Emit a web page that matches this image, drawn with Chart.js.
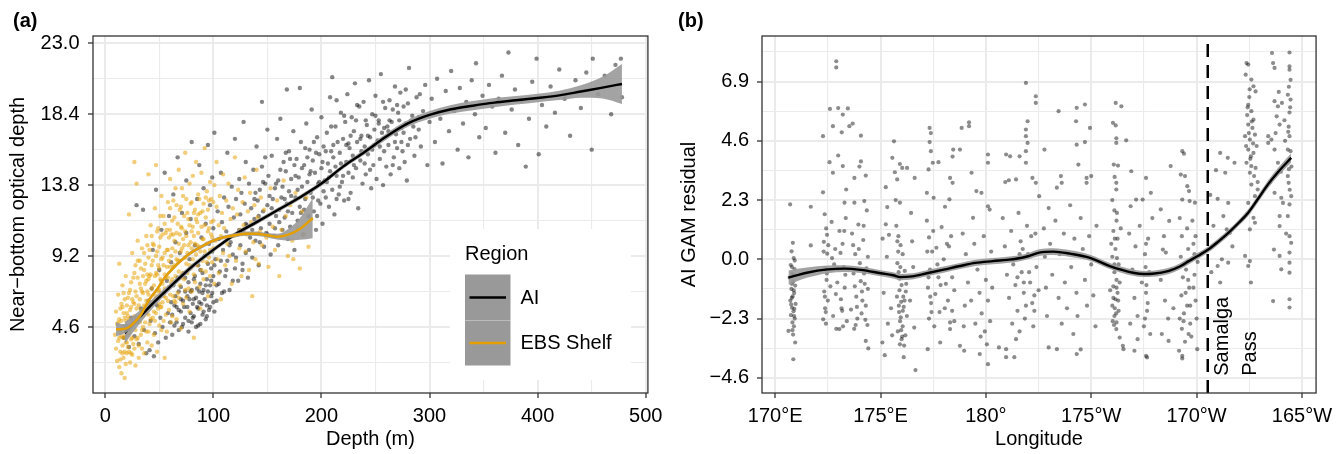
<!DOCTYPE html>
<html>
<head>
<meta charset="utf-8">
<script src="https://cdn.jsdelivr.net/npm/chart.js@4.4.0/dist/chart.umd.min.js"></script>
<style>
  body { margin: 0; background: #fff; width: 1339px; height: 454px; position: relative; overflow: hidden; font-family: "Liberation Sans", Arial, sans-serif; }
  canvas { position: absolute; top: 0; }
  #chartA { left: 0; }
  #chartB { left: 669px; }
  .tag { position: absolute; top: 10px; font-weight: bold; font-size: 20px; line-height: 20px; z-index: 2; }
</style>
</head>
<body>
<canvas id="chartA" width="669" height="454"></canvas>
<canvas id="chartB" width="670" height="454"></canvas>
<div class="tag" style="left:13px">(a)</div>
<div class="tag" style="left:678px">(b)</div>
<script>
// ---------- panel (a): depth vs near-bottom optical depth ----------
const depthTicks = [0, 100, 200, 300, 400, 500];
const depthMinor = [50, 150, 250, 350, 450];
const opticalTicks = [4.6, 9.2, 13.8, 18.4, 23.0];
const opticalMinor = [2.3, 6.9, 11.5, 16.1, 20.7];
const regionNames = ['AI', 'EBS Shelf'];

// AI hauls [depth, optical depth]
const aiPoints = [
  [17,3.9],[19,4.6],[22,3.3],[24,5.2],[27,4.0],[29,12.5],[31,3.5],[33,5.8],[35,12.2],[36,4.4],[38,2.9],[40,6.3],
  [41,3.1],[42,5.0],[43,7.1],[44,9.6],[45,2.7],[46,4.2],[47,13.5],[48,6.0],[49,3.6],[50,8.3],[51,5.2],[52,10.9],
  [53,4.6],[54,6.8],[55,14.6],[56,3.9],[57,7.6],[58,5.5],[59,11.8],[60,4.9],
  [61,6.2],[61,8.8],[62,5.4],[63,7.3],[63,13.2],[64,4.7],[65,6.6],[65,10.1],[66,5.9],[67,7.8],[67,15.6],[68,4.4],
  [68,6.9],[69,9.4],[70,5.6],[70,7.2],[71,12.0],[72,6.3],[72,4.8],[73,8.1],[74,5.2],[74,6.9],[75,10.7],[75,14.1],
  [76,5.9],[77,7.5],[77,4.3],[78,6.4],[78,9.0],[79,5.5],[79,11.6],[80,7.0],[80,16.6],[80,4.9],[81,6.1],
  [82,5.3],[82,7.7],[83,9.9],[84,6.5],[84,4.6],[85,12.9],[85,7.1],[86,5.8],[86,8.6],[87,6.9],[87,15.1],[88,4.8],
  [88,7.4],[89,10.4],[89,6.1],[90,8.1],[90,5.4],[91,13.6],[91,7.0],[92,6.4],[92,9.2],[93,5.1],[93,11.3],[94,7.7],
  [94,6.0],[95,16.4],[95,8.7],[96,5.7],[96,10.0],[97,7.3],[97,12.5],[98,6.6],[98,8.4],[99,14.3],[99,9.5],[100,7.9],
  [100,6.2],[100,11.0],[101,5.6],[101,17.2],
  [62,4.1],[64,6.0],[66,4.9],[68,5.7],[70,6.4],[71,4.6],[73,5.9],[74,7.8],[76,6.6],[77,5.0],[79,6.9],[81,5.2],
  [82,6.4],[83,7.9],[85,5.9],[86,4.7],[87,6.2],[88,8.3],[90,6.8],[91,5.6],[93,7.3],[94,5.3],[95,6.9],[97,5.9],
  [98,7.6],[99,6.8],[101,8.6],[103,6.3],[105,7.4],[107,8.9],[110,6.9],[112,8.3],[115,9.9],[118,7.6],[121,9.1],
  [124,10.9],[127,8.3],[130,11.3],[133,9.6],[136,10.9],
  [102,9.0],[103,7.3],[104,12.1],[105,10.3],[106,8.2],[107,14.6],[108,6.8],[108,11.4],[109,9.6],[110,13.0],
  [111,7.9],[112,10.8],[113,15.9],[113,8.9],[114,12.4],[115,7.0],[116,10.1],[117,13.7],[118,9.3],[119,11.7],
  [120,8.4],[120,16.8],[121,12.9],[122,10.6],[123,7.6],[124,14.2],[125,9.9],[125,11.9],[126,13.3],[127,8.7],
  [128,10.9],[128,17.9],[129,12.6],[130,9.4],[130,15.3],[131,11.2],[132,7.8],[133,13.9],[134,10.4],[135,12.3],
  [136,9.1],[137,14.8],[138,11.6],[139,10.2],[140,16.3],[141,12.8],[142,8.6],[143,13.5],[144,11.0],[145,19.2],
  [145,15.0],[146,12.1],[147,9.8],[148,13.9],[149,10.7],[150,17.4],[150,12.5],[151,14.4],[152,11.3],[153,9.3],
  [154,15.7],[155,12.9],[156,10.5],[157,13.6],[158,11.8],[159,16.8],[160,14.1],[160,9.9],[161,12.2],[162,18.1],
  [163,13.0],[164,10.9],[165,15.3],[166,11.7],[167,14.7],[168,12.6],[168,20.0],[169,10.3],[170,13.4],[170,16.0],
  [171,11.1],[172,14.2],[173,12.0],[174,17.3],[175,9.6],
  [139,13.3],[142,11.8],[146,14.0],[150,10.6],[154,12.3],[158,13.9],[161,11.4],[164,13.7],[167,15.9],[169,12.1],
  [172,13.1],[175,15.1],[178,13.5],[182,14.9],[184,12.2],[187,15.6],[190,14.7],[192,13.0],[195,15.9],[198,14.0],
  [202,13.4],[204,16.0],[207,14.3],[211,16.4],[214,12.9],[218,15.2],[220,14.4],[223,16.4],[227,17.0],[230,15.1],
  [232,18.0],[236,16.8],[240,15.2],[243,17.0],[247,16.1],[250,18.3],[254,16.3],[258,17.5],[263,18.0],[268,16.6],
  [272,18.0],[276,17.2],[280,16.4],[285,17.6],[290,18.2],
  [176,13.0],[177,15.5],[178,11.5],[179,14.3],[180,20.1],[180,12.4],[181,16.6],[182,13.7],[183,10.6],[184,15.1],
  [185,12.9],[186,17.8],[187,14.0],[188,11.8],[189,16.1],[190,13.3],[191,18.7],[192,15.4],[193,12.1],[194,14.6],
  [195,10.9],[196,16.9],[197,13.9],[198,15.8],[199,12.6],[200,14.9],[200,18.2],[201,11.3],[202,16.3],[203,14.1],
  [204,13.0],[205,17.2],[206,15.2],[207,12.4],[208,19.5],[208,14.7],[209,16.0],[210,13.5],[210,20.8],[211,15.6],
  [212,11.9],[213,17.6],[214,14.4],[215,16.6],[216,13.2],
  [217,15.9],[218,18.5],[219,14.0],[220,16.8],[221,12.8],[222,17.9],[223,15.3],[224,19.7],[225,14.6],[226,16.2],
  [227,13.3],[228,18.2],[229,15.7],[230,17.3],[231,20.4],[232,14.9],[233,16.6],[234,12.3],[235,18.9],[236,15.4],
  [237,17.0],[238,13.9],[239,19.2],[240,16.3],[241,14.5],[242,17.7],[243,15.8],[244,20.6],[245,16.9],[246,13.6],
  [247,18.4],[248,15.1],[249,17.4],[250,19.6],[251,14.2],[252,16.7],[253,18.0],[254,15.5],[255,21.0],[256,17.2],
  [257,13.8],[258,16.0],[259,18.8],[260,15.0],[261,17.6],
  [138,12.9],[143,10.1],[148,15.6],[152,13.1],[157,11.0],[162,14.8],[166,12.9],[171,15.5],[176,14.4],[181,12.0],
  [185,16.2],[189,14.5],[193,16.6],[197,12.8],[201,15.3],[205,14.0],[209,17.6],[213,15.0],[217,13.7],[221,18.3],
  [225,16.5],[229,14.3],[233,19.0],[237,16.0],[241,18.0],[245,14.8],[249,16.4],[253,17.8],[257,19.2],[262,17.3],
  [266,15.1],[270,19.0],[274,16.6],[278,20.0],[283,18.0],[287,16.9],[291,19.7],[225,12.9],[214,19.3],[196,11.8],
  [262,16.4],[263,19.3],[264,14.5],[265,17.9],[266,18.7],[267,15.6],[268,20.2],[269,17.1],[270,16.2],[271,18.5],
  [272,14.9],[273,19.8],[274,17.5],[275,16.0],[276,18.9],[277,15.3],[278,17.8],[279,14.1],[280,19.1],[281,21.4],
  [282,16.8],[284,18.3],[286,15.7],[288,19.5],[290,17.4],[292,16.3],[294,18.6],[296,20.3],[298,15.1],[300,17.9],
  [302,19.4],[305,16.6],[307,20.7],[310,18.1],[312,15.2],[315,19.9],[318,17.3],[320,21.2],[323,18.6],[326,16.1],
  [328,20.1],[331,17.8],[334,19.2],[336,15.6],[339,20.6],[342,18.4],[343,21.7],[346,16.9],[349,19.6],[352,17.5],
  [355,20.3],[358,18.9],[361,15.9],[364,19.4],[367,20.9],[370,17.2],[373,22.4],[376,18.7],[379,20.0],[382,16.4],
  [385,19.3],[389,15.0],[392,18.1],[395,20.5],[399,22.0],[401,15.8],[404,19.0],[408,17.6],[412,20.2],[416,18.5],
  [420,21.3],[425,19.4],[430,17.0],[435,20.6],[440,18.8],[445,21.1],[450,16.1],[451,22.0],[456,19.7],[462,20.9],
  [468,18.4],[472,21.6],[477,22.0],[478,19.5]
];

// EBS shelf hauls [depth, optical depth]
const ebsPoints = [
  [9,4.1],[10,3.2],[10,5.6],[11,2.4],[11,4.8],[12,6.7],[12,3.7],[13,8.7],[13,2.0],[13,5.1],[14,4.3],[14,3.0],
  [15,6.1],[15,1.6],[16,4.6],[16,7.3],[16,3.4],[17,5.5],[17,2.6],[18,4.0],[18,6.4],[18,1.3],[19,3.6],[19,5.0],
  [19,7.9],[20,2.9],[20,4.5],[20,6.0],[21,3.3],[21,5.3],
  [12,4.9],[13,3.9],[14,5.8],[14,2.5],[15,4.0],[15,5.0],[16,2.9],[16,5.9],[17,3.9],[17,6.8],[18,3.0],[18,5.2],
  [19,4.3],[19,2.2],[20,5.5],[20,3.6],[21,4.1],[21,6.5],[22,3.0],[22,5.1],[23,4.4],[23,7.0],[24,2.9],[24,5.9],
  [25,3.9],[25,6.4],[26,4.8],[26,7.8],[27,3.2],[27,6.1],[28,5.2],[28,8.6],[29,3.8],[29,6.6],[30,4.9],[30,8.9],
  [22,11.9],[22,4.2],[22,6.8],[23,2.3],[23,5.7],[24,3.8],[24,7.5],[25,4.9],[25,2.8],[25,9.4],[26,6.2],[26,3.5],
  [27,15.3],[27,5.3],[27,8.1],[28,4.4],[28,2.1],[28,6.9],[29,13.9],[29,5.8],[30,3.9],[30,7.8],[30,10.2],[31,5.0],
  [31,2.6],[32,6.4],[32,8.9],[33,4.1],[33,7.1],[34,3.2],[34,5.6],[34,9.7],[35,6.8],[35,4.6],[36,8.3],[36,2.9],
  [37,5.9],[37,7.4],[38,10.5],[38,4.3],[38,6.3],[39,3.6],[39,8.0],[40,5.4],[40,14.5],[40,9.1],[40,6.7],[41,4.8],
  [41,7.9],[42,11.2],
  [31,6.0],[31,3.4],[32,7.4],[32,4.9],[33,5.7],[33,8.4],[34,6.9],[34,4.4],[35,7.9],[35,5.3],[36,6.0],[36,9.4],
  [37,4.9],[37,8.7],[38,7.6],[38,5.5],[39,6.9],[39,9.9],[40,7.7],[40,4.3],[41,6.1],[41,9.6],[42,8.0],[42,5.1],
  [43,7.1],[43,10.5],[44,6.2],[44,8.9],[45,5.6],[45,9.9],[46,7.9],[46,5.0],[47,9.2],[47,6.6],[48,8.0],[48,10.8],
  [49,5.8],[49,8.6],[50,9.8],[50,6.1],[51,7.7],[51,11.8],[52,9.0],[52,5.9],[53,7.4],[53,10.6],[54,8.6],[54,6.6],
  [55,9.4],[55,11.3],[56,7.8],[56,5.4],[57,8.5],[57,10.9],[58,9.6],[58,6.3],[59,10.4],[59,7.2],[60,8.5],[60,12.3],
  [42,6.0],[43,3.4],[43,8.6],[44,5.2],[44,10.0],[45,7.3],[45,4.1],[46,6.4],[46,12.3],[47,15.1],[47,8.1],[47,5.5],
  [48,9.5],[48,3.0],[49,6.9],[49,11.0],[50,4.7],[50,8.4],[50,7.0],[51,5.9],[51,10.4],[52,13.1],[52,7.6],[52,4.4],
  [53,9.1],[53,6.2],[54,11.8],[54,5.0],[55,8.0],[55,7.1],[55,2.6],[56,10.7],[56,6.5],[57,9.6],[57,4.3],[58,12.7],
  [58,7.8],[59,5.7],[59,8.9],[60,10.9],[60,6.7],[60,14.2],[61,9.2],[61,4.9],[61,7.5],[62,11.5],[62,5.3],[63,8.5],
  [63,12.8],[64,6.3],
  [61,10.6],[62,7.7],[62,9.7],[63,6.6],[63,10.6],[64,8.6],[64,11.7],[65,9.5],[65,6.2],[66,10.7],[66,12.5],[67,8.9],
  [68,10.0],[68,6.5],[69,8.9],[69,12.2],[70,7.8],[70,11.1],[71,9.7],[71,13.6],[72,10.3],[72,8.1],[73,11.8],[74,9.1],
  [74,7.0],[75,10.5],[75,12.9],[76,8.1],[77,9.9],[78,11.2],[78,8.6],[79,12.6],[80,10.8],[81,9.0],[82,12.0],[83,10.0],
  [84,11.6],[85,9.9],[86,11.9],[87,12.9],[88,9.5],[89,8.3],[90,12.1],[91,10.3],[92,11.2],[93,13.0],[94,8.8],[95,10.8],
  [96,12.8],[97,9.6],[98,11.4],[99,10.4],[100,12.7],
  [64,10.2],[65,7.9],[65,13.6],[66,5.1],[66,9.0],[67,11.3],[67,6.8],[68,8.2],[68,14.8],[69,10.6],[69,7.3],[70,12.4],
  [70,4.5],[70,9.5],[71,8.0],[71,11.0],[72,6.1],[72,13.1],[73,9.9],[73,7.7],[74,15.9],[74,10.8],[75,6.5],[75,8.7],
  [76,12.0],[76,9.4],[77,11.6],[77,7.1],[78,13.9],[78,5.6],[79,10.1],[79,8.4],[80,12.7],[80,9.7],[80,6.9],[81,11.1],
  [81,14.4],[82,8.0],[82,10.5],[82,3.9],[83,12.2],[83,7.5],[84,9.3],[84,15.3],[85,11.4],
  [85,8.6],[86,10.7],[86,13.2],[87,7.2],[87,9.8],[88,12.0],[88,5.8],[89,11.1],[89,14.6],[90,8.9],[90,10.3],[91,12.6],
  [91,7.7],[92,9.5],[92,16.2],[93,11.7],[93,8.2],[94,13.4],[94,10.0],[95,6.6],[95,12.2],[96,9.1],[96,11.0],[97,14.0],
  [97,7.9],[98,10.6],[98,12.9],[99,8.8],[100,11.5],[100,9.7],[101,13.8],[101,7.4],[102,10.2],[103,12.4],[103,15.3],
  [104,9.0],[105,11.2],[105,8.1],[106,13.1],[107,10.5],[107,6.4],[108,12.0],[109,9.4],[109,14.5],[110,11.0],
  [111,8.6],[112,12.8],[113,10.0],[114,13.9],[115,9.2],[116,11.6],[117,7.4],[118,12.3],[119,10.5],[120,15.6],
  [121,8.9],[122,11.9],[123,13.5],[124,9.7],[125,10.9],[126,7.9],[127,12.7],[128,11.2],[129,14.3],[130,9.5],
  [131,10.6],[132,12.1],[133,8.3],[134,13.3],[135,11.4],[136,6.6],[137,10.1],[138,12.5],[139,9.0],[140,14.8],
  [141,11.7],[142,8.7],[143,10.8],[144,13.0],[145,9.9],
  [147,12.2],[149,10.4],[151,8.5],[153,13.6],[155,11.1],[157,9.6],[159,12.8],[161,7.9],[163,10.9],[165,14.1],
  [167,11.8],[169,9.2],[171,12.5],[173,10.2],[174,9.0],[176,13.3],[178,11.0],[180,8.4],[182,12.1],[184,10.6],
  [186,13.0],[188,9.8],[190,11.6]
];

// smooth fits with confidence bands
const aiFitDepth = [18, 30, 45, 60, 80, 100, 120, 140, 160, 180, 200, 220, 240, 260, 280, 300, 320, 340, 360, 380, 400, 420, 440, 460, 478];
const aiFit   = [4.2, 5.1, 6.2, 7.2, 8.5, 9.6, 10.6, 11.4, 12.2, 13.0, 13.9, 15.0, 15.95, 16.95, 17.8, 18.35, 18.72, 18.95, 19.15, 19.3, 19.45, 19.62, 19.87, 20.12, 20.36];
const aiLower = [3.5, 4.65, 5.9, 6.98, 8.32, 9.45, 10.45, 11.25, 12.05, 12.85, 13.75, 14.85, 15.78, 16.75, 17.58, 18.1, 18.44, 18.65, 18.85, 19.02, 19.18, 19.32, 19.47, 19.42, 19.06];
const aiUpper = [4.9, 5.55, 6.5, 7.42, 8.68, 9.75, 10.75, 11.55, 12.35, 13.15, 14.05, 15.15, 16.12, 17.15, 18.02, 18.6, 19.0, 19.25, 19.45, 19.58, 19.72, 19.92, 20.27, 20.82, 21.66];

const ebsFitDepth = [10, 15, 21, 27, 33, 40, 48, 55, 62, 70, 80, 90, 100, 110, 120, 130, 140, 150, 160, 170, 180, 192];
const ebsFit   = [4.45, 4.45, 4.55, 4.9, 5.4, 6.3, 7.05, 7.8, 8.35, 8.9, 9.45, 9.85, 10.2, 10.42, 10.55, 10.65, 10.65, 10.55, 10.45, 10.6, 10.95, 11.66];
const ebsLower = [4.0, 4.1, 4.3, 4.7, 5.24, 6.16, 6.92, 7.68, 8.23, 8.78, 9.33, 9.73, 10.08, 10.3, 10.42, 10.51, 10.5, 10.4, 10.25, 10.2, 10.25, 10.36];
const ebsUpper = [4.9, 4.8, 4.8, 5.1, 5.56, 6.44, 7.18, 7.92, 8.47, 9.02, 9.57, 9.97, 10.32, 10.54, 10.68, 10.79, 10.8, 10.7, 10.65, 11.0, 11.65, 12.96];

// ---------- panel (b): AI GAM residual vs longitude ----------
// longitude on a continuous scale: 180 = dateline, 185 = 175W, 190 = 170W, 195 = 165W
const lonTicks = [170, 175, 180, 185, 190, 195];
const lonLabels = ['170°E', '175°E', '180°', '175°W', '170°W', '165°W'];
const lonMinor = [172.5, 177.5, 182.5, 187.5, 192.5];
const residTicks = [-4.6, -2.3, 0, 2.3, 4.6, 6.9];
const residLabels = ['−4.6', '−2.3', '0.0', '2.3', '4.6', '6.9'];
const residMinor = [-3.45, -1.15, 1.15, 3.45, 5.75, 8.05];
const samalgaLon = 190.53;
const passWords = ['Samalga', 'Pass'];

const residPoints = [
  [170.71,2.13],[170.84,0.64],[170.78,0.31],[170.88,0.05],[170.74,-0.22],[170.92,-0.38],[170.81,-0.55],[170.69,-0.71],
  [170.86,-0.86],[170.95,-1.02],[170.77,-1.15],[170.9,-1.31],[170.83,-1.44],[170.72,-1.6],[170.97,-1.73],[170.8,-1.88],
  [170.87,-2.02],[170.75,-2.17],[170.93,-2.3],[170.82,-2.45],[170.89,-2.6],[170.63,-2.78],[170.85,-2.92],[170.95,-3.23],
  [170.86,-3.88],[170.79,-0.95],[170.91,-1.92],[171.69,2.04],[171.69,0.54],
  [170.8,-0.3],[170.88,-1.2],[170.76,-1.75],[170.9,-2.2],[170.82,-2.75],[170.86,-0.6],[170.79,-1.5],[170.93,-0.05],
  [172.9,7.69],[172.9,7.45],[172.6,5.84],[172.99,5.87],[173.45,5.86],[172.27,4.78],[173.21,5.62],[173.68,5.27],
  [172.74,5.17],[173.52,5.17],[174.07,4.8],[173.16,4.93],[172.99,4.03],[173.21,3.62],[172.58,3.77],[172.74,3.36],
  [174.0,3.6],[174.07,3.8],[173.76,3.16],[174.3,3.25],[172.27,2.6],[173.37,2.71],[173.29,2.2],[173.76,2.2],[174.23,2.26],
  [172.35,1.75],[172.42,1.2],[172.31,0.68],[172.47,0.22],[172.38,-0.35],[172.44,-0.8],[172.33,-1.25],[172.5,-1.6],
  [172.4,-2.05],[172.28,-2.33],[172.46,0.95],[172.37,-1.9],
  [172.68,1.45],[172.85,0.4],[172.95,-0.9],[173.05,1.1],[173.12,-1.55],[172.75,-2.2],[172.9,-2.7],[173.05,-2.71],
  [173.2,0.6],[173.25,-0.3],[173.3,-1.1],[173.18,-2.0],[173.35,1.6],[172.8,-0.2],[173.4,-2.4],
  [173.65,1.0],[173.72,-0.55],[173.8,0.2],[173.85,-1.45],[173.95,1.35],[174.02,-0.15],[174.1,-2.1],[174.18,0.75],
  [174.25,-0.95],[174.3,-1.8],[174.35,1.9],[174.38,-2.55],[174.42,-3.46],[174.3,-3.17],[173.75,-2.7],[174.12,-1.25],
  [173.9,-2.3],[174.4,0.1],[173.6,-1.95],[174.22,-0.55],
  [172.3,0.3],[172.45,-0.55],[172.36,-1.45],[172.41,-2.5],[172.52,0.55],[172.62,-1.05],[172.7,0.05],[172.88,-1.35],
  [172.98,-0.35],[173.1,0.25],[173.15,-1.9],[173.22,-2.6],[173.28,1.1],[173.33,-0.6],[173.7,0.55],[173.78,-1.05],
  [173.88,-1.85],[173.97,0.4],[174.06,-0.85],[174.14,-1.6],[174.2,1.3],[174.28,-2.35],[174.33,-0.35],[174.4,-1.15],
  [173.82,-2.55],
  [175.64,4.58],[175.56,3.94],[175.92,3.7],[176.03,3.55],[176.26,3.55],[175.68,3.38],[175.79,3.1],[176.62,3.16],
  [175.25,2.8],[175.72,2.3],[175.92,2.2],[175.32,2.03],[175.25,1.36],
  [175.1,0.8],[175.3,0.1],[175.45,-0.6],[175.15,-1.3],[175.5,-1.9],[175.35,-2.5],[175.09,-3.23],[175.2,-3.72],
  [175.55,-2.95],[175.4,0.95],
  [175.75,1.3],[175.85,0.9],[175.95,0.55],[176.05,0.2],[175.8,-0.15],[176.15,-0.45],[175.9,-0.75],[176.0,-1.0],
  [176.2,-1.25],[175.78,-1.45],[175.98,-1.65],[176.1,-1.85],[175.88,-2.05],[176.25,-2.2],[175.93,-2.4],[176.05,-2.6],
  [175.82,-2.8],[176.18,-2.95],[176.0,-3.1],[176.12,-3.35],[176.1,-3.8],[175.96,-2.25],[176.08,-1.45],[175.86,-0.5],
  [175.84,0.3],[175.94,-0.3],[176.02,-0.65],[175.9,-1.2],[176.06,-2.0],[175.98,-2.75],[176.14,-1.6],[175.87,-1.8],
  [176.03,-3.0],[175.92,-3.3],[176.22,-0.95],[175.8,0.7],
  [176.45,1.8],[176.55,-0.3],[176.4,-1.6],[176.6,-2.65],[176.66,-4.3],[176.5,0.7],
  [177.33,5.1],[177.39,4.9],[177.33,4.55],[177.39,4.2],[177.48,3.75],[177.75,3.77],[178.45,4.26],[178.77,4.26],
  [178.42,3.99],[178.3,3.16],[178.42,2.97],[177.28,3.49],[177.2,2.58],[177.52,2.39],[178.27,2.33],[178.06,2.04],
  [177.2,1.5],[177.3,0.85],[177.45,0.3],[177.35,-0.4],[177.25,-1.1],[177.4,-1.7],[177.3,-2.3],[177.5,1.1],
  [177.65,0.45],[177.75,-0.7],[177.6,-1.35],[177.8,-2.05],[177.9,1.25],[178.0,0.0],[178.1,-0.95],[178.2,-1.6],
  [178.3,-2.45],[178.35,0.9],[178.45,-0.3],[178.5,-1.2],[178.4,-2.0],[178.25,0.5],[177.55,-2.6],[177.24,-3.49],
  [177.83,-3.23],[178.3,-2.71],[178.77,-3.36],[178.97,-3.55],
  [177.22,0.3],[177.28,-0.7],[177.36,-1.45],[177.42,-2.05],[177.7,-0.2],[177.85,-1.0],[178.05,-1.9],[178.15,0.6],
  [178.4,-0.7],[178.5,-2.4],
  [178.85,5.1],[179.2,5.32],[179.2,5.17],[179.32,3.36],[179.55,2.65],[179.79,2.58],[180.1,4.07],[180.1,3.75],
  [180.1,2.06],[180.18,1.93],[179.39,1.61],
  [178.9,1.0],[179.05,0.2],[179.15,-0.9],[179.3,-1.6],[179.45,0.6],[179.6,-0.4],[179.7,-1.3],[179.8,-2.1],
  [179.9,0.9],[180.0,-0.8],[180.1,-1.6],[180.2,-2.4],[180.25,0.3],[179.95,-2.8],[179.75,-3.0],[180.05,-3.3],
  [179.71,-3.68],[180.1,-4.07],[179.5,-2.5],[179.0,-1.8],[178.95,-2.6],[180.3,-1.1],
  [181.9,6.85],[182.37,6.33],[182.37,6.07],[181.98,5.36],[181.9,5.04],[181.9,4.78],[181.98,4.52],[180.96,4.07],
  [181.15,4.0],[181.6,4.0],[181.9,4.2],[181.43,3.1],[181.09,3.07],[180.92,3.0],[182.21,3.16],[181.9,3.75],
  [182.37,2.97],[182.53,2.45],
  [180.8,1.6],[180.9,0.5],[181.0,-0.6],[181.1,-1.5],[181.2,1.1],[181.3,-0.2],[181.4,-1.0],[181.5,-2.0],
  [181.55,1.8],[181.65,0.7],[181.7,-0.5],[181.8,-1.3],[181.85,-2.3],[181.95,1.3],[182.0,0.2],[182.1,-0.9],
  [182.2,-1.7],[182.25,-2.6],[182.35,1.0],[182.4,-0.3],[182.5,-1.2],[181.6,-2.8],[181.43,-3.1],[180.96,-3.8],
  [181.35,-3.8],[180.62,-3.42],[180.96,-3.49],[182.3,-2.0],[181.25,-2.5],
  [181.75,0.4],[181.8,-0.9],[181.9,-1.8],[182.05,-0.5],[182.15,0.9],[182.3,-1.4],[181.5,-0.7],[181.6,0.2],
  [183.45,5.75],[184.31,5.88],[184.7,6.01],[184.28,5.36],[184.94,5.1],[184.31,4.45],[184.7,4.55],[182.78,4.26],
  [184.39,3.68],[183.56,3.23],[183.6,2.97],[184.78,3.16],[184.78,2.97],[185.0,3.23],[183.37,2.78],[182.98,1.99],
  [182.75,1.2],[182.8,0.1],[182.85,-1.1],[182.9,-2.2],[183.05,0.6],[183.15,-0.6],[183.3,1.5],[183.45,-1.5],
  [183.5,0.2],[183.6,-2.5],[183.7,1.0],[183.75,-0.9],[183.85,-1.9],[184.0,2.1],[184.05,-0.3],[184.2,0.8],
  [184.3,-1.3],[184.35,-2.2],[184.5,1.6],[184.6,0.4],[184.7,-0.8],[184.8,-1.8],[184.9,0.9],[185.0,-0.2],
  [185.1,-1.4],[185.2,-2.6],[185.25,1.3],[182.98,-3.42],[183.37,-3.49],[184.31,-3.68],[184.5,-3.5],[184.15,-2.9],
  [186.16,6.07],[186.43,5.94],[186.03,5.3],[186.16,5.2],[186.19,4.7],[186.19,4.52],[186.66,4.62],[186.07,3.68],
  [186.27,3.64],[186.11,3.2],[186.19,2.97],[186.19,2.71],
  [186.0,2.3],[186.1,1.9],[186.2,1.5],[186.05,1.1],[186.25,0.8],[186.15,0.4],[186.0,0.1],[186.3,-0.2],
  [186.1,-0.5],[186.2,-0.8],[186.05,-1.05],[186.25,-1.3],[186.15,-1.55],[186.0,-1.8],[186.3,-2.0],[186.1,-2.2],
  [186.2,-2.45],[186.19,-2.71],[186.35,-3.04],[186.5,-3.36],[186.53,-3.49],[185.9,-1.2],[185.95,0.6],[186.4,1.2],
  [186.35,-0.9],[186.08,-2.55],[186.22,0.05],[186.12,-1.9],
  [186.1,-0.2],[186.2,-1.1],[186.05,-1.5],[186.18,-2.1],[186.12,0.8],[186.22,1.8],[186.02,-2.4],[186.28,-1.6],
  [186.9,3.42],[187.6,3.16],[187.83,2.58],[187.13,2.32],[187.44,2.32],[186.87,2.06],
  [186.8,1.0],[186.95,-0.4],[187.05,-1.5],[187.1,0.5],[187.2,-2.2],[187.3,1.3],[187.4,-0.9],[187.5,-2.6],
  [187.55,0.2],[187.6,-1.3],[187.65,-2.0],[187.7,0.8],[187.75,-0.5],[187.8,-2.9],[187.9,1.6],[187.6,-3.75],
  [187.65,-3.81],[187.05,-3.55],[187.2,-3.1],[186.85,-2.5],
  [187.58,-0.3],[187.62,-1.0],[187.68,-1.7],[187.55,-2.3],[187.6,0.6],
  [188.3,1.94],[188.7,1.49],[188.4,0.38],[188.54,0.26],[188.77,3.62],[188.3,-0.8],[188.5,-1.6],[188.65,-2.3],
  [188.35,-2.9],[188.67,-3.17],[188.8,-0.4],[188.9,-1.9],[188.45,0.9],
  [189.32,4.2],[189.4,4.1],[189.25,3.29],[189.45,3.23],[189.56,2.84],[189.64,2.65],[189.32,2.32],[189.67,2.26],
  [189.92,2.2],[189.2,1.6],[189.3,0.9],[189.25,0.1],[189.35,-0.7],[189.28,-1.4],[189.4,-2.1],[189.3,-2.7],
  [189.55,1.2],[189.6,0.4],[189.5,-0.4],[189.65,-1.1],[189.55,-1.8],[189.7,-2.5],[189.8,1.5],[189.85,0.6],
  [189.9,-0.6],[189.95,-1.6],[190.0,-2.3],[190.05,-0.1],[189.75,-3.0],[189.32,-3.75],[189.32,-3.85],[189.17,-3.55],
  [190.03,-3.49],[189.45,-3.2],[189.2,-2.3],[189.95,0.9],
  [189.42,-0.2],[189.48,-1.3],[189.38,-2.4],[189.6,-0.8],[189.7,-1.8],[189.85,-1.1],[189.9,0.2],[189.62,-2.9],
  [191.12,4.13],[191.48,3.94],[190.92,3.46],[191.8,3.75],[191.36,3.36],[190.65,2.5],[191.0,2.35],[191.5,2.19],
  [191.27,1.68],[191.43,1.16],[191.58,1.03],[191.2,0.0],[191.5,-0.13],[191.0,-0.26],[191.12,-0.9],[190.7,-0.5],
  [190.8,1.3],[191.7,0.5],
  [192.37,7.62],[192.45,7.56],[192.33,7.17],[192.7,6.72],[192.8,6.52],[192.6,6.98],[192.45,6.0],[192.6,5.75],
  [192.7,5.42],[192.45,5.23],[192.3,4.78],[192.53,4.65],[192.77,4.84],[192.45,4.26],[192.7,4.13],[192.37,3.75],
  [192.6,3.62],[192.8,3.55],[192.53,3.36],[192.73,3.23],[192.9,2.71],[192.77,2.45],[192.45,2.19],[192.7,1.61],
  [192.77,1.42],[192.53,1.16],[192.3,0.13],[192.53,-0.07],[192.45,-0.26],[192.58,-0.9],
  [192.5,6.3],[192.65,5.1],[192.4,5.6],[192.85,4.4],[192.55,3.9],[192.35,4.4],[192.9,3.0],[192.6,2.9],
  [192.52,6.6],[192.42,5.9],[192.62,5.35],[192.48,4.9],[192.68,4.5],[192.58,4.0],
  [193.58,8.01],[193.63,7.62],[193.7,7.43],[194.41,8.03],[194.41,7.49],[194.41,7.36],[194.46,6.97],[193.7,6.14],
  [193.86,5.94],[194.05,6.07],[194.33,6.39],[194.46,6.2],[193.4,4.78],[193.55,4.65],[193.4,4.52],[193.8,5.55],
  [193.94,5.23],[194.17,5.4],[194.41,5.7],[194.37,5.15],[194.41,4.78],[194.33,4.26],[193.7,4.26],[193.86,3.75],
  [194.33,3.23],[194.37,2.97],[193.7,2.58],[194.02,2.39],[194.1,2.19],[194.49,2.45],[194.41,2.13],[193.94,1.68],
  [193.94,1.29],[194.33,1.68],[194.41,0.9],[194.49,0.64],[193.67,0.38],[193.94,0.13],[194.02,-0.39],[194.41,0.26],
  [194.41,-0.13],[194.41,-0.52],[193.63,-1.62],[194.41,-1.55],[194.41,-1.87],[194.0,3.4],[194.2,4.6],[193.5,3.0],
  [194.5,3.6],[194.25,1.0],
  [194.38,6.7],[194.44,5.9],[194.35,4.95],[194.46,4.2],[194.38,3.5],[194.42,2.7],[193.9,6.5],[193.75,4.9]
];

const gamLon   = [170.63, 171.5, 172.5, 173.3, 174.07, 175.01, 175.6, 175.95, 176.5, 177.2, 178.0, 178.77, 179.5, 180.33, 181.0, 181.43, 182.0, 182.53, 183.2, 184.0, 184.94, 185.88, 186.5, 186.98, 187.5, 187.91, 188.69, 189.2, 189.63, 190.1, 190.57, 191.0, 191.51, 192.0, 192.45, 192.9, 193.39, 193.9, 194.49];
const gamFit   = [-0.71, -0.52, -0.39, -0.36, -0.41, -0.54, -0.62, -0.69, -0.66, -0.54, -0.4, -0.26, -0.14, -0.07, -0.02, 0.02, 0.12, 0.26, 0.3, 0.22, 0.06, -0.26, -0.42, -0.52, -0.57, -0.56, -0.45, -0.28, -0.07, 0.15, 0.39, 0.67, 1.03, 1.42, 1.81, 2.33, 2.91, 3.42, 3.94];
const gamLower = [-0.99, -0.72, -0.54, -0.49, -0.53, -0.66, -0.74, -0.81, -0.78, -0.66, -0.52, -0.38, -0.26, -0.19, -0.14, -0.1, 0.0, 0.13, 0.17, 0.09, -0.06, -0.38, -0.54, -0.64, -0.69, -0.68, -0.57, -0.4, -0.19, 0.03, 0.27, 0.55, 0.91, 1.3, 1.68, 2.19, 2.76, 3.26, 3.76];
const gamUpper = [-0.43, -0.32, -0.24, -0.23, -0.29, -0.42, -0.5, -0.57, -0.54, -0.42, -0.28, -0.14, -0.02, 0.05, 0.1, 0.14, 0.24, 0.39, 0.43, 0.35, 0.18, -0.14, -0.3, -0.4, -0.45, -0.44, -0.33, -0.16, 0.05, 0.27, 0.51, 0.79, 1.15, 1.54, 1.94, 2.47, 3.06, 3.58, 4.12];

// ---------- helpers ----------
const FONT = '"Liberation Sans", Arial, sans-serif';
const BAND = 'rgba(153,153,153,0.9)';
const ORANGE = '#E69F00';
Chart.defaults.font.family = FONT;
Chart.defaults.font.size = 20;
Chart.defaults.color = '#000';

function pairs(arr) { return arr.map(p => ({ x: p[0], y: p[1] })); }
function zipXY(xs, ys) { return xs.map((x, i) => ({ x: x, y: ys[i] })); }
function near(list, v) { return list.findIndex(m => Math.abs(m - v) < 1e-6); }

function makeAxis(o) {
  const all = o.major.concat(o.minor).sort((a, b) => a - b);
  const isMajor = v => near(o.major, v) >= 0;
  return {
    type: 'linear',
    min: o.min,
    max: o.max,
    afterBuildTicks: s => { s.ticks = all.map(v => ({ value: v })); },
    afterFit: o.fit,
    ticks: {
      autoSkip: false, maxRotation: 0, color: '#000', padding: o.tickPad,
      font: { size: 20 },
      callback: v => { const i = near(o.major, v); return i >= 0 ? o.label(o.major[i], i) : ''; }
    },
    grid: {
      color: '#ebebeb',
      lineWidth: c => (c.tick && isMajor(c.tick.value)) ? 2 : 1.1,
      tickColor: c => (c.tick && isMajor(c.tick.value)) ? '#333333' : 'rgba(0,0,0,0)',
      tickLength: 5, tickWidth: 1.3
    },
    border: { display: false },
    title: { display: true, text: o.title, color: '#000', font: { size: 20 }, padding: o.titlePad }
  };
}

const framePlugin = {
  id: 'frame',
  afterDraw(chart) {
    const { ctx, chartArea: a } = chart;
    ctx.save();
    ctx.strokeStyle = '#333333';
    ctx.lineWidth = 1.3;
    ctx.strokeRect(a.left, a.top, a.right - a.left, a.bottom - a.top);
    ctx.restore();
  }
};

const regionLegend = {
  id: 'regionLegend',
  afterDraw(chart) {
    const ctx = chart.ctx;
    const colors = ['#000000', ORANGE];
    ctx.save();
    ctx.fillStyle = '#ffffff';
    ctx.fillRect(450, 229, 181, 151);
    ctx.font = '20px ' + FONT;
    ctx.textBaseline = 'middle';
    ctx.textAlign = 'left';
    ctx.fillStyle = '#000';
    ctx.fillText('Region', 465, 254);
    regionNames.forEach((name, i) => {
      const top = 274.5 + i * 45.5;
      ctx.fillStyle = 'rgb(153,153,153)';
      ctx.fillRect(465, top, 45.5, 45.5);
      ctx.strokeStyle = colors[i];
      ctx.lineWidth = 2.3;
      ctx.beginPath();
      ctx.moveTo(469.5, top + 23);
      ctx.lineTo(506, top + 23);
      ctx.stroke();
      ctx.fillStyle = '#000';
      ctx.fillText(name, 520.5, top + 23.5);
    });
    ctx.strokeStyle = 'rgba(255,255,255,0.35)';
    ctx.lineWidth = 1;
    ctx.beginPath();
    ctx.moveTo(465, 320.5);
    ctx.lineTo(510.5, 320.5);
    ctx.stroke();
    ctx.restore();
  }
};

const passLabel = {
  id: 'passLabel',
  afterDatasetsDraw(chart) {
    const { ctx, scales } = chart;
    const baseLon = [191.47, 192.84];
    const yStart = scales.y.getPixelForValue(-4.52);
    ctx.save();
    ctx.font = '20px ' + FONT;
    ctx.fillStyle = '#000';
    ctx.textAlign = 'left';
    ctx.textBaseline = 'alphabetic';
    passWords.forEach((w, i) => {
      ctx.save();
      ctx.translate(scales.x.getPixelForValue(baseLon[i]), yStart);
      ctx.rotate(-Math.PI / 2);
      ctx.fillText(w, 0, 0);
      ctx.restore();
    });
    ctx.restore();
  }
};

function bandSets(xs, lo, hi, order) {
  return [
    { type: 'line', data: zipXY(xs, hi), borderWidth: 0, pointRadius: 0, fill: '+1', backgroundColor: BAND,
      cubicInterpolationMode: 'monotone', order: order },
    { type: 'line', data: zipXY(xs, lo), borderWidth: 0, pointRadius: 0, fill: false,
      cubicInterpolationMode: 'monotone', order: order }
  ];
}
function fitLine(xs, ys, color, order) {
  return { type: 'line', data: zipXY(xs, ys), borderColor: color, borderWidth: 2.4, pointRadius: 0, fill: false,
    cubicInterpolationMode: 'monotone', order: order };
}

const common = {
  responsive: false, animation: false, events: [], devicePixelRatio: 1,
  plugins: { legend: { display: false }, tooltip: { enabled: false } }
};

// ---------- chart (a) ----------
new Chart(document.getElementById('chartA'), {
  type: 'scatter',
  data: {
    datasets: [
      { label: 'AI', data: pairs(aiPoints), pointRadius: 2.2, pointBorderWidth: 0, backgroundColor: 'rgba(0,0,0,0.48)', order: 9 },
      { label: 'EBS Shelf', data: pairs(ebsPoints), pointRadius: 2.2, pointBorderWidth: 0, backgroundColor: 'rgba(230,159,0,0.52)', order: 8 },
      ...bandSets(aiFitDepth, aiLower, aiUpper, 7),
      fitLine(aiFitDepth, aiFit, '#000000', 6),
      ...bandSets(ebsFitDepth, ebsLower, ebsUpper, 5),
      fitLine(ebsFitDepth, ebsFit, ORANGE, 4)
    ]
  },
  options: Object.assign({}, common, {
    layout: { padding: { top: 36, right: 17, left: 0, bottom: 0 } },
    scales: {
      x: makeAxis({ min: -11.3, max: 502, major: depthTicks, minor: depthMinor, label: v => String(v),
        title: 'Depth (m)', titlePad: { top: 0, bottom: 2.5 }, tickPad: 6.5, fit: s => { s.height = 61; } }),
      y: makeAxis({ min: 0.32, max: 23.47, major: opticalTicks, minor: opticalMinor, label: v => v.toFixed(1),
        title: 'Near−bottom optical depth', titlePad: { top: 6.5, bottom: 0 }, tickPad: 8.5, fit: s => { s.width = 93; } })
    }
  }),
  plugins: [framePlugin, regionLegend]
});

// ---------- chart (b) ----------
new Chart(document.getElementById('chartB'), {
  type: 'scatter',
  data: {
    datasets: [
      { label: 'residual', data: pairs(residPoints), pointRadius: 2.1, pointBorderWidth: 0, backgroundColor: 'rgba(0,0,0,0.45)', order: 9 },
      ...bandSets(gamLon, gamLower, gamUpper, 7),
      fitLine(gamLon, gamFit, '#000000', 6),
      { type: 'line', data: [{ x: samalgaLon, y: -5.19 }, { x: samalgaLon, y: 8.67 }], borderColor: '#000', borderWidth: 2.5,
        borderDash: [13, 8], pointRadius: 0, fill: false, order: 5 }
    ]
  },
  options: Object.assign({}, common, {
    layout: { padding: { top: 36, right: 17, left: 0, bottom: 0 } },
    scales: {
      x: makeAxis({ min: 169.375, max: 195.67, major: lonTicks, minor: lonMinor, label: (v, i) => lonLabels[i],
        title: 'Longitude', titlePad: { top: 0, bottom: 2.5 }, tickPad: 6.5, fit: s => { s.height = 61; } }),
      y: makeAxis({ min: -5.19, max: 8.67, major: residTicks, minor: residMinor, label: (v, i) => residLabels[i],
        title: 'AI GAM residual', titlePad: { top: 8, bottom: 0 }, tickPad: 8, fit: s => { s.width = 93; } })
    }
  }),
  plugins: [framePlugin, passLabel]
});
</script>
</body>
</html>
